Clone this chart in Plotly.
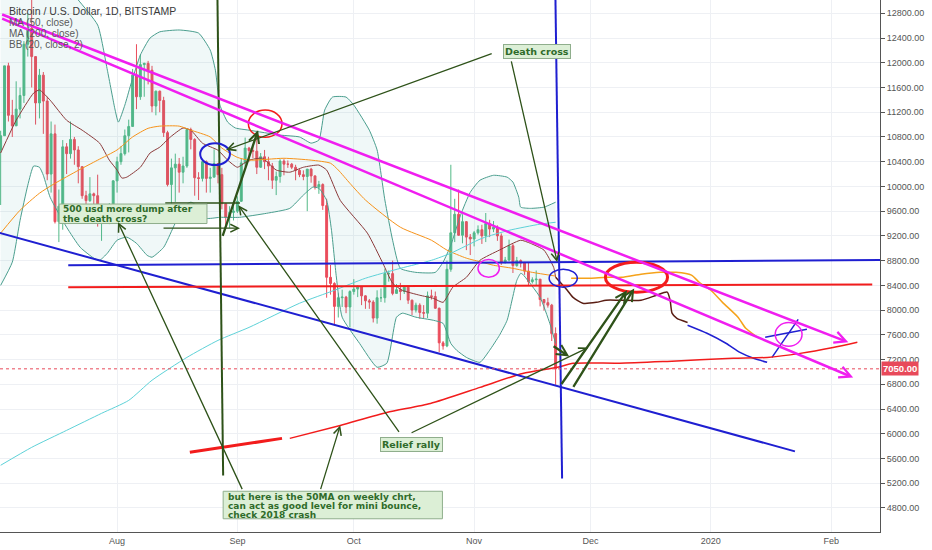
import pandas as pd
import plotly.graph_objects as go

# daily candles BTC/USD (Bitstamp), 2 Jul - 22 Nov 2019
days = pd.date_range("2019-07-02", "2019-11-22", freq="D")
opens = [10590, 10820, 11950, 11150, 10980, 11250, 11470, 12300, 12560, 12100,
         11350, 11800, 11380, 10200, 10850, 9430, 9680, 10640, 10530, 10760,
         10590, 10320, 9850, 9770, 9880, 9850, 9480, 9530, 9500, 9590,
         10090, 10400, 10530, 10820, 10970, 11800, 11450, 11970, 11990, 11880,
         11300, 11540, 11390, 10870, 10030, 10300, 10360, 10230, 10330, 10920,
         10760, 10140, 10130, 10400, 10130, 10150, 10370, 10190, 9720, 9500, 9580,
         9600, 9760, 10380, 10620, 10580, 10570, 10310, 10480, 10400, 10330,
         10100, 10160, 10410, 10360, 10360, 10310, 10260, 10190, 10160, 10280,
         10170, 9990, 10030, 9690, 8530, 8430, 8060, 8200, 8210, 8050,
         8300, 8340, 8380, 8230, 8150, 8130, 7870, 8200, 8200, 8590,
         8590, 8270, 8330, 8300, 8370, 8160, 8000, 8080, 7960, 7950,
         8230, 8220, 8030, 7470, 7420, 8660, 9250, 9550, 9210, 9430, 9180,
         9150, 9250, 9300, 9200, 9400, 9310, 9340, 9200, 8770, 8810,
         9040, 8720, 8800, 8760, 8630, 8460, 8490, 8500, 8170, 8120, 8080, 7620]
highs = [10900, 11950, 12000, 11400, 11700, 11600, 12350, 12800, 13150, 12100,
         11900, 11850, 11450, 11050, 11000, 9950, 10750, 10700, 11050, 10800,
         10650, 10320, 9930, 10150, 9900, 10190, 9600, 9700, 9730, 10100,
         10480, 10650, 10920, 11080, 11900, 12300, 12130, 12000, 12030, 11950,
         11550, 11550, 11450, 10900, 10450, 10530, 10460, 10480, 10930, 10950,
         10780, 10230, 10440, 10420, 10300, 10600, 10380, 10300, 9720, 9680, 9680,
         9840, 10450, 10790, 10640, 10650, 10900, 10540, 10590, 10480, 10380,
         10240, 10440, 10440, 10420, 10380, 10350, 10280, 10260, 10280, 10300,
         10180, 10090, 10050, 9800, 8730, 8450, 8270, 8330, 8230, 8320,
         8500, 8400, 8390, 8240, 8180, 8160, 8320, 8350, 8670, 8640,
         8800, 8420, 8440, 8400, 8400, 8170, 8120, 8110, 8080, 8300,
         8330, 8300, 8040, 7500, 8800, 10350, 9800, 9950, 9550, 9440, 9230,
         9280, 9370, 9380, 9570, 9460, 9440, 9370, 9240, 8860, 9140,
         9070, 8860, 8820, 8780, 8770, 8530, 8640, 8500, 8180, 8200, 8100, 7720]
lows = [9700, 10820, 11050, 10800, 10980, 11100, 11350, 12100, 11600, 11000,
        11100, 10850, 10100, 9900, 9400, 9100, 9300, 10200, 10450, 10350,
        10050, 9800, 9550, 9750, 9660, 9350, 9120, 9400, 9390, 9580,
        9900, 10350, 10500, 10550, 10970, 11250, 11400, 11450, 11650, 11200,
        11150, 11200, 10800, 10000, 9500, 9750, 9900, 10050, 10300, 10600,
        9850, 9780, 10080, 9900, 9900, 10150, 10050, 9630, 9350, 9330, 9450,
        9570, 9750, 10320, 10400, 10460, 10200, 10300, 10280, 10100, 9960,
        9860, 10060, 10180, 10300, 10280, 10100, 10150, 10100, 9600, 10060,
        9950, 9880, 9620, 8200, 8250, 7750, 7880, 8050, 7950, 7720,
        8250, 8210, 8080, 8020, 8020, 7800, 7780, 8130, 8120, 8460,
        8240, 8270, 8160, 8260, 8100, 7920, 7960, 7860, 7870, 7870,
        8170, 8020, 7320, 7360, 7400, 8620, 9100, 9200, 9080, 8970, 8890,
        9030, 9220, 9070, 9100, 9180, 9260, 9120, 8730, 8750, 8790,
        8600, 8700, 8690, 8570, 8400, 8430, 8390, 8060, 7990, 8040, 7500, 6790]
closes = [10820, 11950, 11150, 10980, 11250, 11470, 12300, 12560, 12100, 11350,
          11800, 11380, 10200, 10850, 9430, 9680, 10640, 10530, 10760, 10590,
          10320, 9850, 9770, 9880, 9850, 9480, 9530, 9500, 9590, 10090,
          10400, 10530, 10820, 10970, 11800, 11450, 11970, 11990, 11880, 11300,
          11540, 11390, 10870, 10030, 10300, 10360, 10230, 10330, 10920, 10760,
          10140, 10130, 10400, 10130, 10150, 10370, 10190, 9720, 9500, 9580, 9600,
          9760, 10380, 10620, 10580, 10570, 10310, 10480, 10400, 10330, 10100,
          10160, 10410, 10360, 10360, 10310, 10260, 10190, 10160, 10280, 10170,
          9990, 10030, 9690, 8530, 8430, 8060, 8200, 8210, 8050, 8300,
          8340, 8380, 8230, 8150, 8130, 7870, 8200, 8200, 8590, 8590,
          8270, 8330, 8300, 8370, 8160, 8000, 8080, 7960, 7950, 8230,
          8220, 8030, 7470, 7420, 8660, 9250, 9550, 9210, 9430, 9180, 9150,
          9250, 9300, 9200, 9400, 9310, 9340, 9200, 8770, 8810, 9040,
          8720, 8800, 8760, 8630, 8460, 8490, 8500, 8170, 8120, 8080, 7620, 7050]
last_price = 7050

# indicator lines
ma50_dates = ["2019-07-02", "2019-07-07", "2019-07-12", "2019-07-16", "2019-07-22", "2019-07-27",
              "2019-08-01", "2019-08-05", "2019-08-09", "2019-08-12", "2019-08-17", "2019-08-20",
              "2019-08-25", "2019-08-28", "2019-09-01", "2019-09-04", "2019-09-13", "2019-09-20",
              "2019-09-25", "2019-09-27", "2019-09-30", "2019-10-04", "2019-10-13", "2019-10-21",
              "2019-10-25", "2019-10-30", "2019-11-03", "2019-11-06", "2019-11-11", "2019-11-16",
              "2019-11-22"]
ma50_vals = [9245, 9615, 9890, 10050, 10260, 10425, 10590, 10800, 10940, 10975, 10975, 10910,
             10800, 10620, 10470, 10425, 10455, 10425, 10375, 10265, 10050, 9780, 9340, 9130,
             8970, 8840, 8775, 8725, 8675, 8610, 8550]

ma200_dates = ["2019-07-02", "2019-07-10", "2019-07-19", "2019-07-28", "2019-08-04", "2019-08-10",
               "2019-08-19", "2019-08-27", "2019-09-04", "2019-09-17", "2019-09-26", "2019-10-04",
               "2019-10-13", "2019-10-21", "2019-10-26", "2019-11-03", "2019-11-10", "2019-11-18",
               "2019-11-22"]
ma200_vals = [5490, 5780, 6055, 6330, 6540, 6865, 7235, 7510, 7720, 8110, 8320, 8515,
              8675, 8805, 8920, 9160, 9290, 9390, 9420]

bb_up_dates = ["2019-07-02", "2019-07-08", "2019-07-14", "2019-07-19", "2019-07-22", "2019-07-27",
               "2019-07-29 12:00", "2019-07-31 12:00", "2019-08-01 08:00", "2019-08-03",
               "2019-08-04 12:00", "2019-08-07", "2019-08-09 12:00", "2019-08-12", "2019-08-17",
               "2019-08-22", "2019-08-25", "2019-08-26 08:00", "2019-08-27 12:00",
               "2019-08-29 12:00", "2019-08-31 12:00", "2019-09-04", "2019-09-12", "2019-09-17",
               "2019-09-20", "2019-09-22", "2019-09-23 12:00", "2019-09-25 12:00", "2019-09-29",
               "2019-10-01", "2019-10-05", "2019-10-07", "2019-10-09", "2019-10-11", "2019-10-13",
               "2019-10-17", "2019-10-22", "2019-10-24", "2019-10-26", "2019-10-28 12:00",
               "2019-10-31", "2019-11-02 12:00", "2019-11-06", "2019-11-09 12:00", "2019-11-11",
               "2019-11-12 12:00", "2019-11-13", "2019-11-15 12:00", "2019-11-19", "2019-11-22"]
bb_up_vals = [13400, 13650, 13550, 13250, 13015, 12610, 11880, 11235, 11040, 11315,
              11640, 12125, 12400, 12500, 12530, 12480, 12205, 11880, 11315, 11040,
              10945, 10910, 10830, 10800, 10700, 10750, 11235, 11445, 11445, 11315,
              10910, 10590, 9780, 9130, 8675, 8610, 8610, 8775, 9050, 9535,
              9905, 10100, 10180, 10150, 10070, 9825, 9665, 9645, 9665, 9745]

bb_lo_dates = ["2019-07-02", "2019-07-05", "2019-07-07", "2019-07-09", "2019-07-10 12:00",
               "2019-07-12", "2019-07-13", "2019-07-14 18:00", "2019-07-19", "2019-07-22 12:00",
               "2019-07-26", "2019-07-27 12:00", "2019-07-29 12:00", "2019-08-01",
               "2019-08-03 12:00", "2019-08-06", "2019-08-08 18:00", "2019-08-10", "2019-08-13",
               "2019-08-15 12:00", "2019-08-18", "2019-08-20", "2019-08-22 12:00", "2019-08-24",
               "2019-08-27 12:00", "2019-09-01 12:00", "2019-09-08 12:00", "2019-09-14 12:00",
               "2019-09-18", "2019-09-20 12:00", "2019-09-22", "2019-09-24", "2019-09-25 06:00",
               "2019-09-26 12:00", "2019-09-28", "2019-10-02 12:00", "2019-10-07",
               "2019-10-09 12:00", "2019-10-12", "2019-10-13 12:00", "2019-10-17",
               "2019-10-21 12:00", "2019-10-24", "2019-10-26", "2019-10-27 12:00", "2019-10-30",
               "2019-11-02 12:00", "2019-11-05", "2019-11-07 12:00", "2019-11-09 12:00",
               "2019-11-12", "2019-11-13", "2019-11-13 12:00", "2019-11-18", "2019-11-20 12:00",
               "2019-11-22"]
bb_lo_vals = [8400, 8775, 9450, 10020, 10330, 10310, 10180, 9825, 9340, 9015,
              8840, 8805, 8920, 9130, 9180, 9080, 8885, 8855, 9015, 9340,
              9665, 9745, 9645, 9485, 9500, 9500, 9565, 9645, 9860, 9990,
              9970, 9775, 9290, 8535, 7885, 7460, 7075, 7140, 7885, 7950,
              7885, 7835, 7785, 7460, 7350, 7235, 7155, 7350, 7590, 7835,
              8480, 8595, 8580, 8205, 7785, 7460]

bb_mid_dates = ["2019-07-02", "2019-07-06", "2019-07-10 12:00", "2019-07-12", "2019-07-14 18:00",
                "2019-07-19", "2019-07-23", "2019-07-27 12:00", "2019-07-30", "2019-08-01",
                "2019-08-02 06:00", "2019-08-03 12:00", "2019-08-07", "2019-08-09 12:00",
                "2019-08-12", "2019-08-14 18:00", "2019-08-18", "2019-08-20", "2019-08-23",
                "2019-08-27", "2019-08-29 12:00", "2019-09-01", "2019-09-04", "2019-09-07 12:00",
                "2019-09-11", "2019-09-14 12:00", "2019-09-18", "2019-09-22", "2019-09-24",
                "2019-09-27 12:00", "2019-10-04 12:00", "2019-10-08 12:00", "2019-10-11",
                "2019-10-13 12:00", "2019-10-18", "2019-10-21 12:00", "2019-10-24",
                "2019-10-26 12:00", "2019-10-30", "2019-11-02 12:00", "2019-11-07 12:00",
                "2019-11-13", "2019-11-15 12:00", "2019-11-19", "2019-11-21 12:00", "2019-11-22"]
bb_mid_vals = [10540, 11070, 11510, 11560, 11395, 11070, 10910, 10700, 10425, 10265,
               10135, 10150, 10310, 10540, 10635, 10800, 10945, 10910, 10700, 10585,
               10425, 10310, 10425, 10455, 10265, 10230, 10310, 10345, 10265, 9775,
               9245, 8755, 8435, 8320, 8240, 8190, 8125, 8370, 8530, 8805,
               8970, 9130, 9080, 8970, 8690, 8530]

# hand drawn projections
brown_dates = ["2019-11-22", "2019-11-25", "2019-11-26 12:00", "2019-11-29", "2019-12-02 12:00",
               "2019-12-05", "2019-12-08 12:00", "2019-12-14", "2019-12-18", "2019-12-20 18:00",
               "2019-12-21 12:00", "2019-12-22", "2019-12-23 06:00", "2019-12-26"]
brown_vals = [8530, 8320, 8205, 8110, 8125, 8160, 8160, 8160, 8240, 8290, 8160, 7950, 7865, 7800]
orange_dates = ["2019-11-26", "2019-12-01", "2019-12-05", "2019-12-09", "2019-12-14", "2019-12-19",
                "2019-12-23", "2019-12-27", "2019-12-29", "2020-01-01", "2020-01-04", "2020-01-08",
                "2020-01-10", "2020-01-13"]
orange_vals = [8515, 8515, 8530, 8530, 8580, 8610, 8610, 8565, 8450, 8320, 8125, 7885, 7705, 7560]
blue_curve_dates = ["2019-12-26", "2019-12-31", "2020-01-05", "2020-01-08 12:00", "2020-01-12",
                    "2020-01-15 12:00"]
blue_curve_vals = [7755, 7625, 7460, 7315, 7220, 7155]
cross_dates = [["2020-01-16 18:00", "2020-01-23 12:00"], ["2020-01-15", "2020-01-25 18:00"]]
cross_vals = [[7235, 7850], [7560, 7690]]
weekly_thick_dates = ["2019-08-19 18:00", "2019-09-12 12:00"]
weekly_thick_vals = [5700, 5925]
weekly_dates = ["2019-09-14 12:00", "2019-09-27 12:00", "2019-10-09 12:00", "2019-10-20 18:00",
                "2019-11-02 12:00", "2019-11-13 12:00", "2019-11-22 12:00", "2019-11-26 12:00",
                "2019-12-08 12:00", "2019-12-20 18:00", "2020-01-06 18:00", "2020-01-15 12:00",
                "2020-01-24", "2020-02-01 12:00", "2020-02-07 18:00"]
weekly_vals = [5925, 6135, 6345, 6490, 6750, 6975, 7075, 7140, 7140, 7170, 7220, 7235, 7300, 7395, 7480]

# straight drawings: (date0, price0, date1, price1)
blue_lines = [("2019-07-01", 9260, "2020-01-22 16:00", 5715),
              ("2019-07-19 10:00", 8725, "2020-02-15", 8810),
              ("2019-11-21 22:00", 13200, "2019-11-23 16:00", 5275)]
red_level = ("2019-07-19 10:00", 8370, "2020-02-11 14:00", 8415)
green_vertical = ("2019-08-26 20:00", 13200, "2019-08-28 08:00", 5325)
green_plain = ("2019-08-13 10:00", 9730, "2019-09-01 16:00", 9730)
magenta_arrows = [("2019-07-02", 12790, "2020-02-05 10:00", 7480),
                  ("2019-07-02", 12725, "2020-02-06 16:00", 6910)]
thin_arrows = [("2019-11-05 22:00", 12155, "2019-08-29 02:00", 10590),
               ("2019-11-10 12:00", 12045, "2019-11-22 10:00", 8775),
               ("2019-09-02 10:00", 5080, "2019-08-01 06:00", 9420),
               ("2019-09-22 08:00", 5080, "2019-09-27 12:00", 6135),
               ("2019-10-12 22:00", 6005, "2019-09-01 06:00", 9695),
               ("2019-10-15 12:00", 6005, "2019-11-30 10:00", 7395),
               ("2019-08-12 14:00", 9325, "2019-09-01 16:00", 9325)]
thick_arrows = [("2019-08-28 02:00", 9175, "2019-09-06 08:00", 10910),
                ("2019-11-21 02:00", 7430, "2019-11-25 12:00", 7250),
                ("2019-11-23 06:00", 6780, "2019-12-10 10:00", 8320),
                ("2019-11-26 08:00", 6735, "2019-12-12 06:00", 8350)]
# ellipses: (date0, date1, price0, price1, colour, width)
ellipses = [("2019-08-22 10:00", "2019-08-30 02:00", 10345, 10700, "#1f1fd1", 2),
            ("2019-09-03 20:00", "2019-09-12 12:00", 10795, 11235, "#f21c1c", 1.5),
            ("2019-11-02", "2019-11-07 12:00", 8530, 8820, "#f01ef0", 1.5),
            ("2019-11-20 08:00", "2019-11-27 14:00", 8370, 8660, "#1f1fd1", 1.5),
            ("2019-12-04 20:00", "2019-12-20 20:00", 8290, 8775, "#f21c1c", 3),
            ("2020-01-17 14:00", "2020-01-24 12:00", 7415, 7800, "#f01ef0", 1.5)]

# notes
note_single = [("Death cross", "2019-11-17 04:00", 12190),
               ("Relief rally", "2019-10-15 20:00", 5830)]
note_dump_box = ("2019-07-17 02:00", "2019-08-24 04:00", 9400, 9715)
note_dump_lines = [("500 usd more dump after", "2019-07-17 14:00", 9630),
                   ("the death cross?", "2019-07-17 14:00", 9480)]
note_ma_box = ("2019-08-28 08:00", "2019-10-23 20:00", 4625, 5070)
note_ma_lines = [("but here is the 50MA on weekly chrt,", "2019-08-29 02:00", 4980),
                 ("can act as good level for mini bounce,", "2019-08-29 02:00", 4832),
                 ("check 2018 crash", "2019-08-29 02:00", 4684)]

legend_lines = ["Bitcoin / U.S. Dollar, 1D, BITSTAMP", "MA (50, close)", "MA (200, close)", "BB (20, close, 2)"]
price_ticks = [4400, 4800, 5200, 5600, 6000, 6400, 6800, 7200, 7600, 8000, 8400, 8800,
               9200, 9600, 10000, 10400, 10800, 11200, 11600, 12000, 12400, 12800]
month_ticks = ["2019-08-01", "2019-09-01", "2019-10-01", "2019-11-01", "2019-12-01", "2020-01-01", "2020-02-01"]
month_labels = ["Aug", "Sep", "Oct", "Nov", "Dec", "2020", "Feb"]

GREEN = "#2e5219"
BLUE = "#1f1fd1"
RED = "#f21c1c"
MAGENTA = "#f01ef0"
BAND = "#4a9e8e"

fig = go.Figure()

# bollinger fill + bands
fig.add_trace(go.Scatter(x=bb_up_dates, y=bb_up_vals, mode="lines", line=dict(color=BAND, width=1, shape="spline", smoothing=0.5)))
fig.add_trace(go.Scatter(x=bb_lo_dates, y=bb_lo_vals, mode="lines", fill="tonexty", fillcolor="rgba(60,170,170,0.08)",
                         line=dict(color=BAND, width=1, shape="spline", smoothing=0.5)))

fig.add_trace(go.Candlestick(x=days, open=opens, high=highs, low=lows, close=closes,
                             increasing=dict(line=dict(color="#53b987", width=1), fillcolor="#53b987"),
                             decreasing=dict(line=dict(color="#eb4d5c", width=1), fillcolor="#eb4d5c"),
                             whiskerwidth=0))

fig.add_trace(go.Scatter(x=bb_mid_dates, y=bb_mid_vals, mode="lines", line=dict(color="#8b3a3a", width=1, shape="spline", smoothing=0.5)))
fig.add_trace(go.Scatter(x=ma50_dates, y=ma50_vals, mode="lines", line=dict(color="#f7931a", width=1, shape="spline", smoothing=0.6)))
fig.add_trace(go.Scatter(x=ma200_dates, y=ma200_vals, mode="lines", line=dict(color="#5ed2d8", width=1, shape="spline", smoothing=0.6)))

# hand drawn stuff
fig.add_trace(go.Scatter(x=brown_dates, y=brown_vals, mode="lines", line=dict(color="#5a1e14", width=1.5, shape="spline", smoothing=0.6)))
fig.add_trace(go.Scatter(x=orange_dates, y=orange_vals, mode="lines", line=dict(color="#f5a21a", width=1.5, shape="spline", smoothing=0.6)))
fig.add_trace(go.Scatter(x=blue_curve_dates, y=blue_curve_vals, mode="lines", line=dict(color=BLUE, width=1.5, shape="spline", smoothing=0.6)))
for cx, cy in zip(cross_dates, cross_vals):
    fig.add_trace(go.Scatter(x=cx, y=cy, mode="lines", line=dict(color=BLUE, width=1.5)))
fig.add_trace(go.Scatter(x=weekly_thick_dates, y=weekly_thick_vals, mode="lines", line=dict(color=RED, width=3)))
fig.add_trace(go.Scatter(x=weekly_dates, y=weekly_vals, mode="lines", line=dict(color=RED, width=1.5, shape="spline", smoothing=0.6)))

for d0, p0, d1, p1 in blue_lines:
    fig.add_trace(go.Scatter(x=[d0, d1], y=[p0, p1], mode="lines", line=dict(color=BLUE, width=2)))
fig.add_trace(go.Scatter(x=[red_level[0], red_level[2]], y=[red_level[1], red_level[3]], mode="lines", line=dict(color=RED, width=2)))
fig.add_trace(go.Scatter(x=[green_vertical[0], green_vertical[2]], y=[green_vertical[1], green_vertical[3]],
                         mode="lines", line=dict(color=GREEN, width=2)))
fig.add_trace(go.Scatter(x=[green_plain[0], green_plain[2]], y=[green_plain[1], green_plain[3]],
                         mode="lines", line=dict(color=GREEN, width=1.5)))

# current price line
fig.add_shape(type="line", xref="paper", x0=0, x1=1, yref="y", y0=last_price, y1=last_price,
              line=dict(color="#e8495a", width=1, dash="dot"), layer="above")

for d0, d1, p0, p1, col, w in ellipses:
    fig.add_shape(type="circle", xref="x", yref="y", x0=d0, x1=d1, y0=p0, y1=p1,
                  line=dict(color=col, width=w), layer="above")

def arrow(a, color, width, size):
    fig.add_annotation(x=a[2], y=a[3], ax=a[0], ay=a[1], xref="x", yref="y", axref="x", ayref="y",
                       text="", showarrow=True, arrowhead=5, arrowsize=size, arrowwidth=width, arrowcolor=color)

for a in magenta_arrows:
    arrow(a, MAGENTA, 2.5, 0.9)
for a in thin_arrows:
    arrow(a, GREEN, 1.3, 1.2)
for a in thick_arrows:
    arrow(a, GREEN, 2.3, 0.9)

note_font = dict(family="DejaVu Sans", size=9, color="#2f6b2a", weight="bold")
for txt, d, p in note_single:
    fig.add_annotation(x=d, y=p, xref="x", yref="y", text=txt, showarrow=False,
                       font=dict(note_font, size=9.5),
                       bgcolor="#dcefd6", bordercolor="#8fae8c", borderwidth=1, borderpad=1)

for box, lines in [(note_dump_box, note_dump_lines), (note_ma_box, note_ma_lines)]:
    fig.add_shape(type="rect", xref="x", yref="y", x0=box[0], x1=box[1], y0=box[2], y1=box[3],
                  fillcolor="#dcefd6", line=dict(color="#8fae8c", width=1), layer="above")
    for txt, d, p in lines:
        fig.add_annotation(x=d, y=p, xref="x", yref="y", text=txt, showarrow=False, font=note_font,
                           xanchor="left", yanchor="middle")

# legend text top-left
for i, txt in enumerate(legend_lines):
    fig.add_annotation(x=0.008, y=1 - (11 + i * 11.2) / 532, xref="paper", yref="paper", text=txt,
                       showarrow=False, xanchor="left", yanchor="middle",
                       font=dict(family="Liberation Sans", size=10.5 if i == 0 else 10,
                                 color="#3a3a3a" if i == 0 else "#5a5a5a"))

# last price tag on the axis
fig.add_annotation(x=1, y=last_price, xref="paper", yref="y", text=f"{last_price:.2f}", showarrow=False,
                   xanchor="left", xshift=1, bgcolor="#e8495a", borderpad=1,
                   font=dict(family="Liberation Sans", size=9.5, color="white", weight="bold"))

fig.update_layout(
    width=932, height=550,
    margin=dict(l=0, r=52, t=0, b=18),
    paper_bgcolor="white", plot_bgcolor="white",
    showlegend=False, hovermode=False,
    xaxis=dict(type="date", range=["2019-07-01 20:00", "2020-02-13 14:00"], rangeslider=dict(visible=False),
               tickvals=month_ticks, ticktext=month_labels, showgrid=True, gridcolor="#eef0f4",
               showline=True, linecolor="#555", linewidth=1, ticks="", ticklen=0,
               tickfont=dict(family="Liberation Sans", size=9, color="#555"), zeroline=False),
    yaxis=dict(side="right", range=[4411, 13015], tickvals=price_ticks, tickformat=".2f",
               showgrid=True, gridcolor="#eef0f4", showline=True, linecolor="#555", linewidth=1,
               ticks="outside", ticklen=4, tickcolor="#555",
               tickfont=dict(family="Liberation Sans", size=9, color="#555"), zeroline=False),
)

# page has no body margin in the reference
fig.write_html("out.html", config={"displayModeBar": False},
               post_script="document.body.style.margin='0';")
